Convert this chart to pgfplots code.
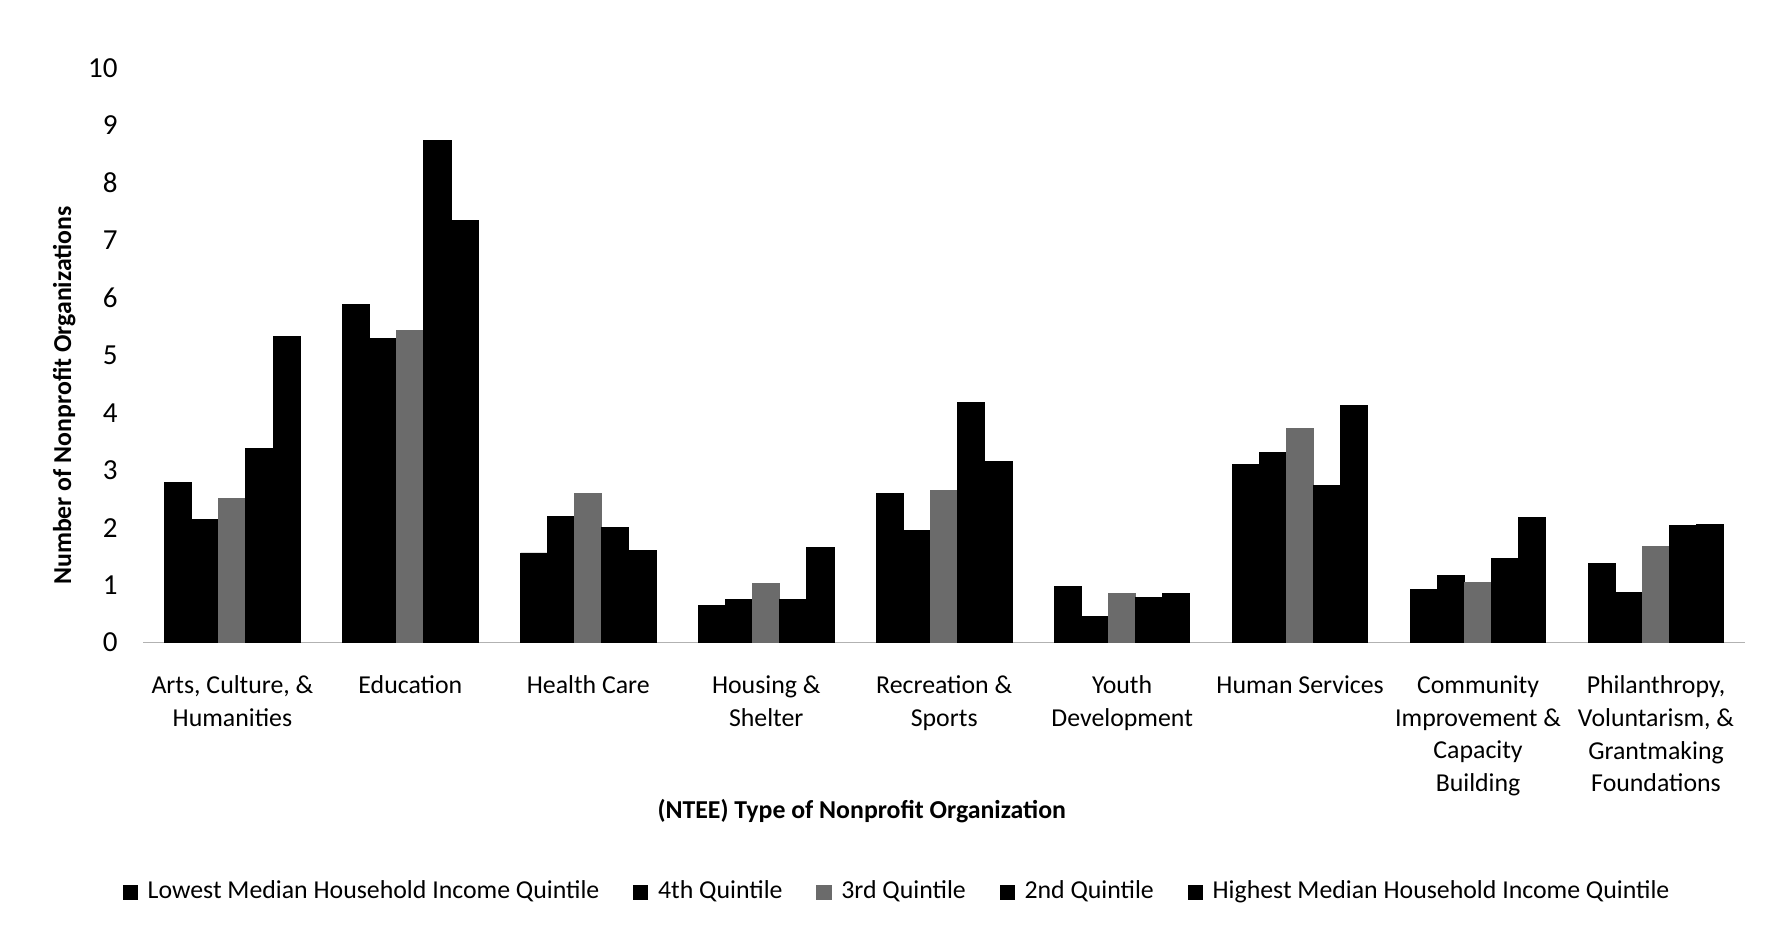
\documentclass[border=0pt]{standalone}
\usepackage{pgfplots}
\pgfplotsset{compat=1.18}
\usepackage{pgfplotstable}
\usepackage{fontspec}
\setmainfont{Carlito}

% Number of nonprofit organizations by NTEE type and income quintile
\pgfplotstableread{
idx q1   q2   q3   q4   q5
0   2.78 2.15 2.50 3.37 5.32
1   5.88 5.29 5.43 8.73 7.34
2   1.56 2.20 2.60 2.00 1.61
3   0.65 0.75 1.03 0.75 1.65
4   2.60 1.95 2.65 4.18 3.15
5   0.97 0.45 0.85 0.79 0.86
6   3.10 3.30 3.72 2.73 4.13
7   0.92 1.17 1.05 1.47 2.18
8   1.38 0.87 1.68 2.04 2.05
}\datatable

\begin{document}
\begin{tikzpicture}[x=1pt,y=1pt]
\useasboundingbox (-44.45,-87.5) rectangle (504.35,199.15);
\begin{axis}[
  at={(0,0)}, anchor=south west,
  scale only axis,
  width=496.3pt, height=178.15pt,
  xmin=-0.5, xmax=8.5,
  ymin=0, ymax=10,
  ybar=0pt, bar width=8.4pt,
  axis lines*=left,
  x axis line style={draw=gray!60, line width=0.4pt},
  y axis line style={draw=none},
  major tick length=0pt,
  ytick={0,1,...,10},
  yticklabel style={font=\fontsize{9}{11}\selectfont, xshift=-4.5pt},
  /pgf/number format/assume math mode=true,
  xtick={0,...,8},
  xticklabels={
    {Arts, Culture, \&\\Humanities},
    {Education},
    {Health Care},
    {Housing \&\\Shelter},
    {Recreation \&\\Sports},
    {Youth\\Development},
    {Human Services},
    {Community\\Improvement \&\\Capacity\\Building},
    {Philanthropy,\\Voluntarism, \&\\Grantmaking\\Foundations}},
  xticklabel style={font=\fontsize{8}{10.15}\selectfont, align=center, anchor=north, yshift=-6.7pt},
  xlabel={(NTEE) Type of Nonprofit Organization},
  xlabel style={font=\bfseries\fontsize{8}{10}\selectfont, at={(axis description cs:0.4485,-0.293)}, anchor=center},
  ylabel={Number of Nonprofit Organizations},
  ylabel style={font=\bfseries\fontsize{8}{10}\selectfont, at={(axis description cs:-0.0494,0.43)}, anchor=center, rotate=0},
  legend style={at={(axis description cs:0.472,-0.434)}, anchor=center, draw=none,
    font=\fontsize{8}{10}\selectfont, legend columns=5,
    /tikz/every even column/.append style={column sep=8.5pt},
    /tikz/every odd column/.append style={column sep=1pt}},
  legend image code/.code={\fill[#1] (0pt,-2.2pt) rectangle (4.4pt,2.2pt);},
]
\addplot[fill=black, draw=black, line width=0.3pt] table[x=idx, y=q1] {\datatable};
\addplot[fill=black, draw=black, line width=0.3pt] table[x=idx, y=q2] {\datatable};
\addplot[fill=black!58, draw=black!58, line width=0.3pt] table[x=idx, y=q3] {\datatable};
\addplot[fill=black, draw=black, line width=0.3pt] table[x=idx, y=q4] {\datatable};
\addplot[fill=black, draw=black, line width=0.3pt] table[x=idx, y=q5] {\datatable};
\legend{Lowest Median Household Income Quintile, 4th Quintile, 3rd Quintile, 2nd Quintile, Highest Median Household Income Quintile}
\end{axis}
\end{tikzpicture}
\end{document}
